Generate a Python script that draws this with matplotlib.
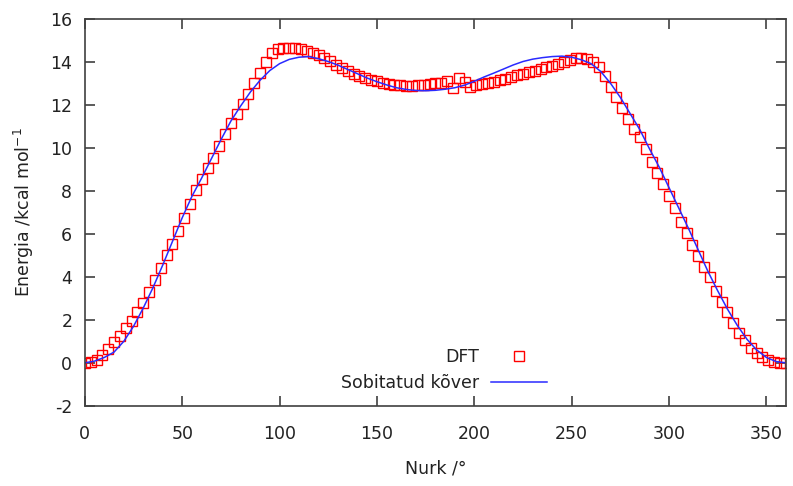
import matplotlib
matplotlib.use("Agg")
import matplotlib.pyplot as plt
import numpy as np

# DFT scan (degrees, kcal/mol)
dft_angle = [0, 3, 6, 9, 12, 15, 18, 21, 24, 27, 30, 33, 36, 39, 42, 45, 48, 51, 54, 57,
             60, 63, 66, 69, 72, 75, 78, 81, 84, 87, 90, 93, 96, 99, 102, 105, 108, 111, 114, 117,
             120, 123, 126, 129, 132, 135, 138, 141, 144, 147, 150, 153, 156, 159, 162, 165, 168, 171, 174, 177,
             180, 183, 186, 189, 192, 195, 198, 201, 204, 207, 210, 213, 216, 219, 222, 225, 228, 231, 234, 237,
             240, 243, 246, 249, 252, 255, 258, 261, 264, 267, 270, 273, 276, 279, 282, 285, 288, 291, 294, 297,
             300, 303, 306, 309, 312, 315, 318, 321, 324, 327, 330, 333, 336, 339, 342, 345, 348, 351, 354, 357, 360]
dft_energy = [0.00, 0.05, 0.15, 0.35, 0.65, 0.95, 1.25, 1.60, 1.95, 2.35, 2.80, 3.30, 3.85, 4.40, 5.00, 5.55, 6.15, 6.75, 7.40, 8.05,
              8.55, 9.05, 9.55, 10.10, 10.65, 11.15, 11.60, 12.05, 12.50, 13.00, 13.50, 14.00, 14.40, 14.58, 14.65, 14.65, 14.63, 14.58, 14.50, 14.40,
              14.30, 14.18, 14.05, 13.88, 13.72, 13.58, 13.45, 13.35, 13.25, 13.16, 13.10, 13.02, 12.98, 12.95, 12.92, 12.90, 12.90, 12.92, 12.95, 12.97,
              13.00, 13.00, 13.10, 12.80, 13.25, 13.05, 12.85, 12.92, 12.97, 13.02, 13.08, 13.15, 13.22, 13.30, 13.38, 13.45, 13.52, 13.60, 13.68, 13.75,
              13.82, 13.90, 13.98, 14.08, 14.17, 14.18, 14.12, 13.98, 13.75, 13.35, 12.85, 12.35, 11.85, 11.35, 10.90, 10.50, 9.95, 9.35, 8.85, 8.30,
              7.75, 7.20, 6.55, 6.05, 5.50, 4.95, 4.45, 4.00, 3.35, 2.85, 2.35, 1.85, 1.40, 1.05, 0.70, 0.45, 0.28, 0.15, 0.05, 0.00, 0.00]

# fitted curve
fit_angle = list(range(0, 361, 5))
fit_energy = [0.00, 0.08, 0.25, 0.50, 1.00, 1.70, 2.55, 3.50, 4.55, 5.65, 6.75, 7.75, 8.60, 9.50, 10.40, 11.25, 11.95, 12.60, 13.15, 13.60,
              13.92, 14.12, 14.22, 14.25, 14.15, 14.02, 13.85, 13.65, 13.45, 13.25, 13.08, 12.93, 12.80, 12.72, 12.67, 12.66, 12.68, 12.73, 12.80, 12.92,
              13.10, 13.30, 13.48, 13.67, 13.86, 14.02, 14.13, 14.20, 14.25, 14.27, 14.22, 14.10, 13.92, 13.55, 13.00, 12.35, 11.60, 10.85, 9.95, 9.10,
              8.15, 7.20, 6.25, 5.25, 4.25, 3.35, 2.50, 1.75, 1.10, 0.60, 0.25, 0.06, 0.00]

xticks = [0, 50, 100, 150, 200, 250, 300, 350]
yticks = [-2, 0, 2, 4, 6, 8, 10, 12, 14, 16]

plt.rcParams["font.family"] = ["DejaVu Sans"]
plt.rcParams["font.size"] = 12.5
plt.rcParams["axes.unicode_minus"] = False

fig = plt.figure(figsize=(7.93, 4.86), dpi=100)
ax = fig.add_axes([0.107, 0.165, 0.884, 0.796])

ax.plot(dft_angle, dft_energy, linestyle="none", marker="s", markersize=7.5,
        markerfacecolor="none", markeredgecolor="#ff0000", markeredgewidth=1.0, label="DFT")
ax.plot(fit_angle, fit_energy, color="#2a2aff", linewidth=1.1, label="Sobitatud kõver")

ax.set_xlim(0, 360)
ax.set_ylim(-2, 16)
ax.set_xticks(xticks)
ax.set_yticks(yticks)
ax.tick_params(direction="in", length=7, width=1.2, top=True, right=True,
               colors="#404040", labelcolor="#222222")
ax.tick_params(axis="x", pad=14)
ax.tick_params(axis="y", pad=9)
for sp in ax.spines.values():
    sp.set_color("#404040")
    sp.set_linewidth(1.2)

ax.set_xlabel("Nurk /°", color="#222222", labelpad=12)
ax.set_ylabel("Energia /kcal mol$^{-1}$", color="#222222", labelpad=10)

leg = ax.legend(loc="lower right", bbox_to_anchor=(0.659, 0.035), frameon=False,
                markerfirst=False, handlelength=3.2, handletextpad=0.7,
                labelspacing=0.45, borderaxespad=0, borderpad=0)
for t in leg.get_texts():
    t.set_color("#222222")

fig.savefig("out.png", dpi=100)
